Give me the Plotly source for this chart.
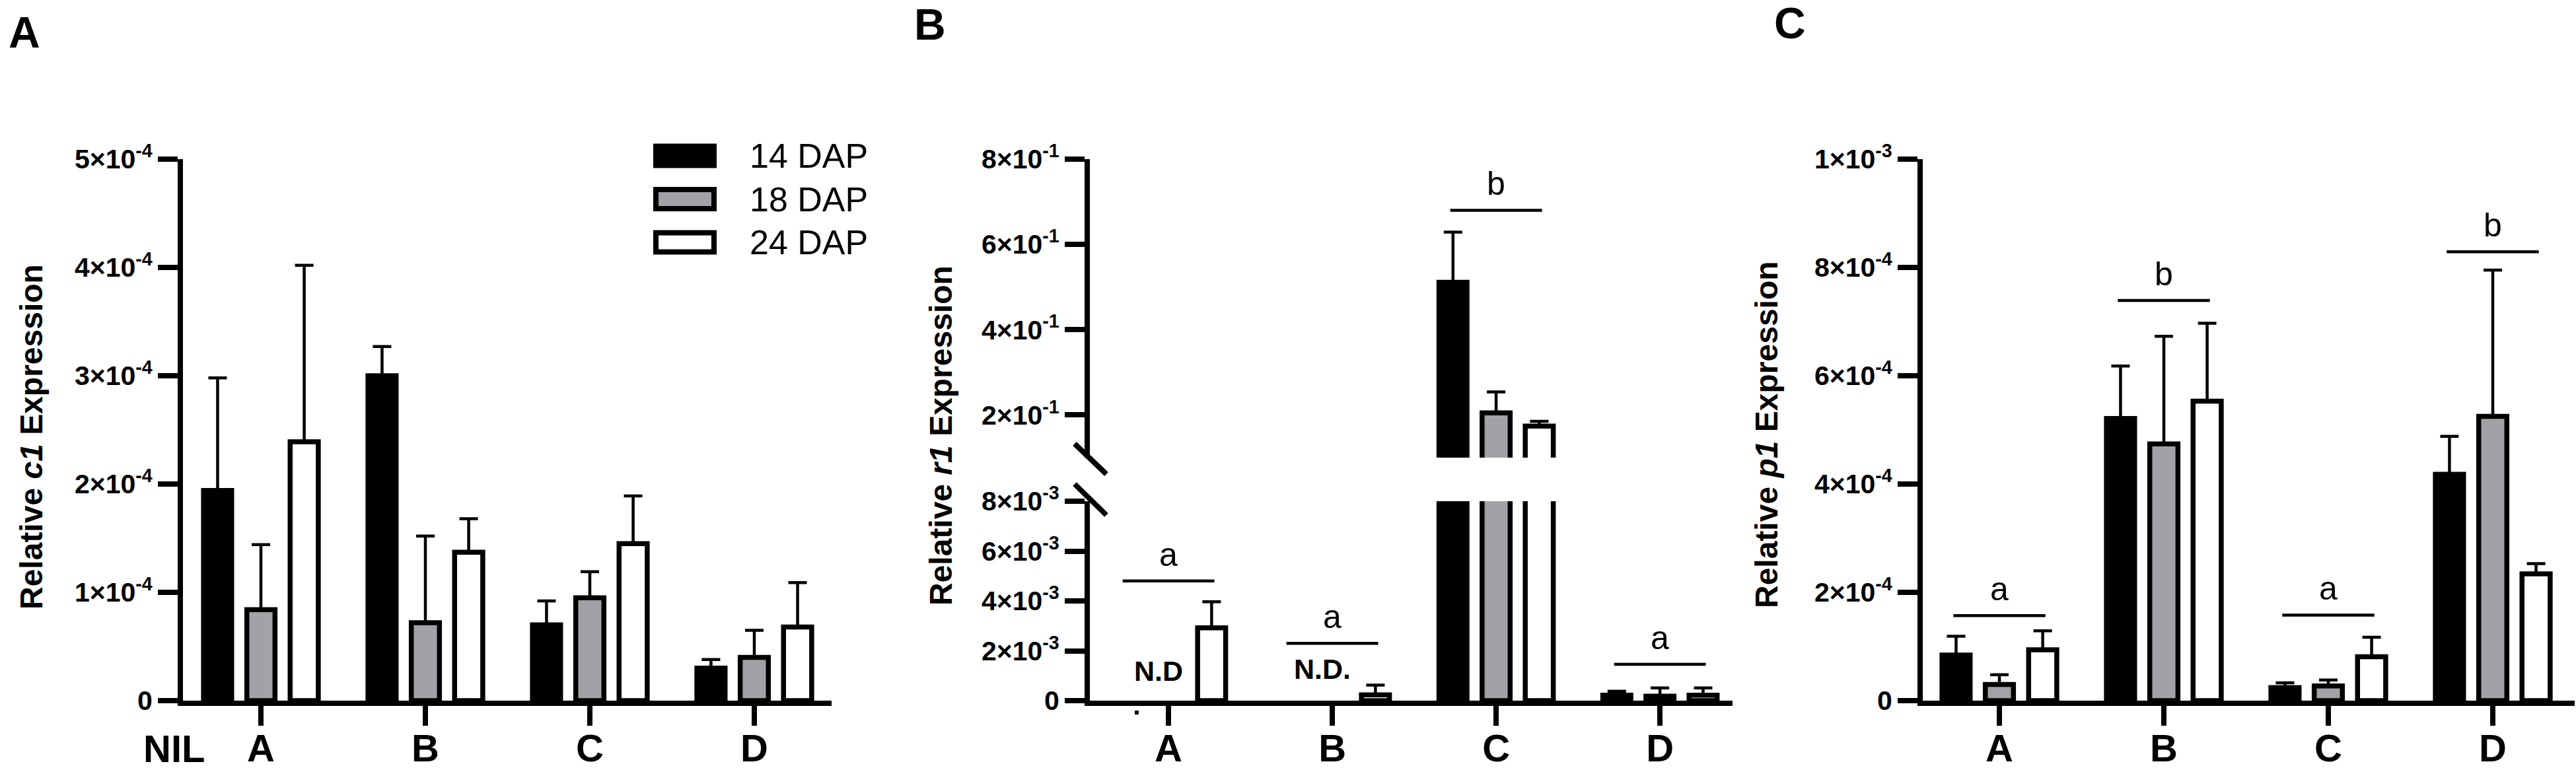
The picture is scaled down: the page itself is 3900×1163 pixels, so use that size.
import plotly.graph_objects as go

W, H = 3900, 1163

nils = ["A", "B", "C", "D"]
series = ["14 DAP", "18 DAP", "24 DAP"]
fills = ["#000000", "#a2a2a6", "#ffffff"]

# panel A - relative c1 expression (mean, upper error)
c1_14 = [1.94e-4, 3.00e-4, 0.70e-4, 0.30e-4]
c1_18 = [0.84e-4, 0.72e-4, 0.95e-4, 0.40e-4]
c1_24 = [2.39e-4, 1.37e-4, 1.45e-4, 0.68e-4]
c1_14_err = [1.04e-4, 0.27e-4, 0.22e-4, 0.08e-4]
c1_18_err = [0.60e-4, 0.80e-4, 0.24e-4, 0.25e-4]
c1_24_err = [1.63e-4, 0.31e-4, 0.44e-4, 0.41e-4]

# panel B - relative r1 expression (None = not detected)
r1_14 = [None, None, 0.511, 0.22e-3]
r1_18 = [None, None, 0.205, 0.18e-3]
r1_24 = [2.92e-3, 0.23e-3, 0.174, 0.22e-3]
r1_14_err = [None, None, 0.118, 0.16e-3]
r1_18_err = [None, None, 0.049, 0.33e-3]
r1_24_err = [1.05e-3, 0.39e-3, 0.011, 0.29e-3]
r1_nd = ["N.D", "N.D.", "", ""]
r1_nd_y = [1.2e-3, 1.28e-3, None, None]
r1_sig = ["a", "a", "b", "a"]
r1_sig_y = [4.8e-3, 2.3e-3, 0.68, 1.46e-3]

# panel C - relative p1 expression
p1_14 = [0.84e-4, 5.21e-4, 0.24e-4, 4.18e-4]
p1_18 = [0.30e-4, 4.74e-4, 0.27e-4, 5.25e-4]
p1_24 = [0.94e-4, 5.53e-4, 0.81e-4, 2.34e-4]
p1_14_err = [0.35e-4, 0.97e-4, 0.09e-4, 0.70e-4]
p1_18_err = [0.18e-4, 1.99e-4, 0.11e-4, 2.70e-4]
p1_24_err = [0.35e-4, 1.44e-4, 0.36e-4, 0.19e-4]
p1_sig = ["a", "b", "a", "b"]
p1_sig_y = [1.57e-4, 7.39e-4, 1.58e-4, 8.29e-4]

# axis ticks
c1_ticks = [0, 1e-4, 2e-4, 3e-4, 4e-4, 5e-4]
c1_ticktext = ["0"] + [f"{k}×10<sup>-4</sup>" for k in range(1, 6)]
r1_hi_ticks = [0.2, 0.4, 0.6, 0.8]
r1_hi_ticktext = [f"{k}×10<sup>-1</sup>" for k in (2, 4, 6, 8)]
r1_lo_ticks = [0, 2e-3, 4e-3, 6e-3, 8e-3]
r1_lo_ticktext = ["0"] + [f"{k}×10<sup>-3</sup>" for k in (2, 4, 6, 8)]
p1_ticks = [0, 2e-4, 4e-4, 6e-4, 8e-4, 1e-3]
p1_ticktext = ["0"] + [f"{k}×10<sup>-4</sup>" for k in (2, 4, 6, 8)] + ["1×10<sup>-3</sup>"]

FONT = "Liberation Sans, Arial, sans-serif"


def px(x):
    return x / W


def py(y):
    return 1 - y / H


fig = go.Figure()


def add_bars(means, errs, xa, ya):
    for name, fill, m, e in zip(series, fills, means, errs):
        fig.add_trace(go.Bar(
            x=nils, y=m, name=name, xaxis=xa, yaxis=ya, showlegend=False,
            marker=dict(color=fill, line=dict(color="black", width=7.5)),
            error_y=dict(type="data", symmetric=False, array=e,
                         arrayminus=[0] * len(e), color="black",
                         thickness=4.5, width=14),
        ))


add_bars([c1_14, c1_18, c1_24], [c1_14_err, c1_18_err, c1_24_err], "x", "y")
add_bars([r1_14, r1_18, r1_24], [r1_14_err, r1_18_err, r1_24_err], "x2", "y2")
add_bars([r1_14, r1_18, r1_24], [r1_14_err, r1_18_err, r1_24_err], "x2", "y3")
add_bars([p1_14, p1_18, p1_24], [p1_14_err, p1_18_err, p1_24_err], "x3", "y4")

xcommon = dict(type="category", categoryorder="array", categoryarray=nils,
               showline=True, linewidth=8, linecolor="black",
               ticks="outside", ticklen=30, tickwidth=8, tickcolor="black",
               tickfont=dict(family=FONT, size=58, weight="bold", color="black"),
               ticklabelstandoff=-16,
               showgrid=False, zeroline=False, automargin=False)
ycommon = dict(showline=True, linewidth=8, linecolor="black",
               ticks="outside", ticklen=30, tickwidth=8, tickcolor="black",
               tickfont=dict(family=FONT, size=41, weight="bold", color="black"),
               showgrid=False, zeroline=False, tickmode="array", automargin=False)

y_bot, y_top = py(1061), py(241)

fig.update_layout(
    template="none",
    width=W, height=H, margin=dict(l=0, r=0, t=0, b=0, pad=0, autoexpand=False),
    paper_bgcolor="white", plot_bgcolor="white",
    barmode="group", bargap=0.21, bargroupgap=0.35,
    font=dict(family=FONT, color="black"),
    xaxis=dict(xcommon, domain=[px(277), px(1259)], range=[-0.474, 3.47], anchor="y"),
    yaxis=dict(ycommon, domain=[y_bot, y_top], range=[0, 5e-4],
               tickvals=c1_ticks, ticktext=c1_ticktext, anchor="x"),
    xaxis2=dict(xcommon, domain=[px(1650), px(2623)], range=[-0.48, 3.443], anchor="y3"),
    yaxis2=dict(ycommon, domain=[py(693), y_top], range=[0.1, 0.8],
                tickvals=r1_hi_ticks, ticktext=r1_hi_ticktext, anchor="x2"),
    yaxis3=dict(ycommon, domain=[y_bot, py(759)], range=[0, 8e-3],
                tickvals=r1_lo_ticks, ticktext=r1_lo_ticktext, anchor="x2"),
    xaxis3=dict(xcommon, domain=[px(2911), px(3898)], range=[-0.466, 3.498], anchor="y4"),
    yaxis4=dict(ycommon, domain=[y_bot, y_top], range=[0, 1e-3],
                tickvals=p1_ticks, ticktext=p1_ticktext, anchor="x3"),
)

shapes = []
annotations = []


def label(x, y, text, size, bold=False, xref="paper", yref="paper", **kw):
    font = dict(family=FONT, size=size, color="black")
    if bold:
        font["weight"] = "bold"
    d = dict(xref=xref, yref=yref, x=x, y=y, text=text, showarrow=False,
             xanchor="center", yanchor="middle", font=font)
    d.update(kw)
    annotations.append(d)


# axis break marks on panel B
for y0, y1 in [(672, 718), (733, 780)]:
    shapes.append(dict(type="line", xref="paper", yref="paper",
                       x0=px(1627), x1=px(1675), y0=py(y0), y1=py(y1),
                       line=dict(color="black", width=8)))

# stray dot under panel B axis
shapes.append(dict(type="rect", xref="paper", yref="paper",
                   x0=px(1718), x1=px(1724), y0=py(1082), y1=py(1076),
                   fillcolor="black", line=dict(width=0)))

# significance bars and letters
for xa, ya_list, letters, heights in [
    ("x2", ["y3", "y3", "y2", "y3"], r1_sig, r1_sig_y),
    ("x3", ["y4"] * 4, p1_sig, p1_sig_y),
]:
    for i, (ya, letter, h) in enumerate(zip(ya_list, letters, heights)):
        shapes.append(dict(type="line", xref=xa, yref=ya,
                           x0=i - 0.28, x1=i + 0.28, y0=h, y1=h,
                           line=dict(color="black", width=4.5)))
        label(nils[i], h, letter, 50, xref=xa, yref=ya, yshift=40)

# not detected labels
for i, (t, h) in enumerate(zip(r1_nd, r1_nd_y)):
    if t:
        label(i - 0.06, h, t, 43, bold=True, xref="x2", yref="y3")

# legend in panel A
for i, (name, fill) in enumerate(zip(series, fills)):
    yc = 236 + 65.5 * i
    shapes.append(dict(type="rect", xref="paper", yref="paper",
                       x0=px(993), x1=px(1081), y0=py(yc - 14.5), y1=py(yc + 14.5),
                       fillcolor=fill, line=dict(color="black", width=8)))
    label(px(1133), py(yc), name, 52, xanchor="left")

# axis titles
for gene, (xc, yc) in zip(["c1", "r1", "p1"], [(47, 662), (1424, 660), (2674, 658)]):
    label(px(xc), py(yc), f"Relative <i>{gene}</i> Expression", 48, bold=True, textangle=-90)

# panel letters
for letter, (xc, yc) in zip(["A", "B", "C"], [(37, 49), (1408, 37), (2710, 35)]):
    label(px(xc), py(yc), letter, 66, bold=True)

# NIL label
label(px(263), py(1133), "NIL", 58, bold=True)

fig.update_layout(shapes=shapes, annotations=annotations)

fig.write_html("out.html", config={"displayModeBar": False},
               post_script="document.body.style.margin='0';")
